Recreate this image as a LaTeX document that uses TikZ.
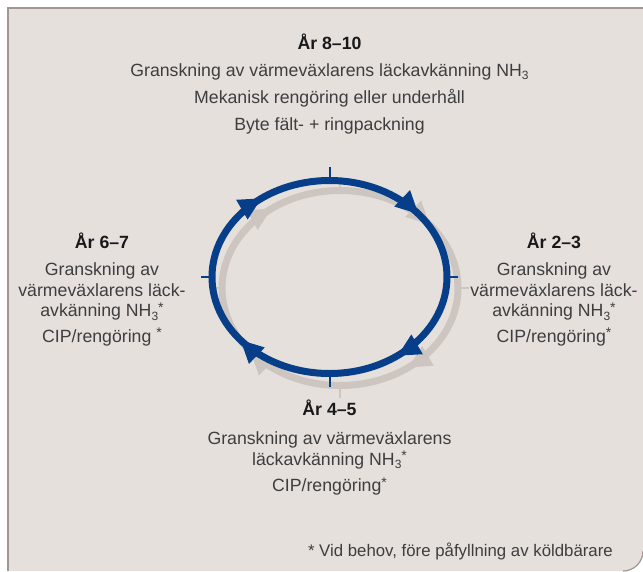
\documentclass[tikz,border=0pt]{standalone}
\usepackage{fontspec}
\setmainfont{Liberation Sans}
\usetikzlibrary{arrows.meta,decorations.markings}

\definecolor{panel}{RGB}{230,224,221}
\definecolor{panelline}{RGB}{163,149,146}
\definecolor{cycleblue}{RGB}{6,62,138}
\definecolor{cycleshade}{RGB}{205,197,192}
\definecolor{ink}{RGB}{62,62,62}
\definecolor{headink}{RGB}{25,25,25}

% lowered subscript three, as in NH3, and a raised note star
\newcommand{\lowthree}{\raisebox{-0.42ex}{\fontsize{12}{12}\selectfont 3}}
\newcommand{\highstar}{\raisebox{0.45ex}{\fontsize{14}{14}\selectfont *}}

\begin{document}
\begin{tikzpicture}[x=1pt,y=1pt,
  txt/.style={anchor=base, text=ink, inner sep=0pt, font=\fontsize{17.7}{20}\selectfont},
  head/.style={anchor=base, text=headink, inner sep=0pt, font=\fontsize{17.7}{20}\selectfont\bfseries},
  note/.style={anchor=base east, text=ink, inner sep=0pt, font=\fontsize{16.8}{19}\selectfont},
  ring/.style={line width=7pt, postaction={decorate}, decoration={markings,
     mark=at position 0.145 with {\arrow{Triangle[length=23pt,width=21pt]}},
     mark=at position 0.395 with {\arrow{Triangle[length=23pt,width=21pt]}},
     mark=at position 0.645 with {\arrow{Triangle[length=23pt,width=21pt]}},
     mark=at position 0.895 with {\arrow{Triangle[length=23pt,width=21pt]}}}},
  tickmark/.style={line width=2pt}]

\useasboundingbox (0,0) rectangle (643,-571);
\fill[white] (0,0) rectangle (643,-571);

% panel with rounded lower right corner
\fill[panel] (8,-571) -- (8,-8) -- (643,-8) -- (643,-551)
  arc[start angle=0, end angle=-90, radius=20] -- cycle;
\draw[panelline, line width=2pt] (8,-571) -- (8,-8) -- (643,-8);
\draw[panelline, line width=1.2pt] (643,-551) arc[start angle=0, end angle=-90, radius=20];

% cycle centres
\coordinate (sc) at (340,-288);
\coordinate (bc) at (329.5,-277);

% shadow ring
\draw[cycleshade, tickmark] (340,-178) -- (340,-189);
\draw[cycleshade, tickmark] (469,-288) -- (457.5,-288);
\draw[cycleshade, tickmark] (340,-398) -- (340,-387);
\draw[cycleshade, tickmark] (211.5,-288) -- (222.5,-288);
\draw[cycleshade, ring] (sc) ++(0,97.5) arc[start angle=90, end angle=-270, x radius=118, y radius=97.5];

% blue ring
\draw[cycleblue, tickmark] (329.5,-167) -- (329.5,-178);
\draw[cycleblue, tickmark] (458,-277) -- (447,-277);
\draw[cycleblue, tickmark] (329.5,-387) -- (329.5,-376);
\draw[cycleblue, tickmark] (201,-277) -- (212,-277);
\draw[cycleblue, ring] (bc) ++(0,96.5) arc[start angle=90, end angle=-270, x radius=117.5, y radius=96.5];

% year 8-10
\node[head] (t0) at (329.5,-49) {År 8–10};
\node[txt] (t1) at (329.5,-76) {Granskning av värmeväxlarens läckavkänning NH\lowthree};
\node[txt] (t2) at (329.5,-103) {Mekanisk rengöring eller underhåll};
\node[txt] (t3) at (329.5,-130) {Byte fält- + ringpackning};

% year 2-3
\node[head] (r0) at (554,-248) {År 2–3};
\node[txt] (r1) at (554,-275.5) {Granskning av};
\node[txt] (r2) at (554,-296) {värmeväxlarens läck-};
\node[txt] (r3) at (554,-316.5) {avkänning NH\lowthree\highstar};
\node[txt] (r4) at (554,-342) {CIP/rengöring\highstar};

% year 6-7
\node[head] (l0) at (102,-248) {År 6–7};
\node[txt] (l1) at (102,-275.5) {Granskning av};
\node[txt] (l2) at (102,-296) {värmeväxlarens läck-};
\node[txt] (l3) at (102,-316.5) {avkänning NH\lowthree\highstar};
\node[txt] (l4) at (102,-342) {CIP/rengöring \highstar};

% year 4-5
\node[head] (b0) at (329.5,-415) {År 4–5};
\node[txt] (b1) at (329.5,-444) {Granskning av värmeväxlarens};
\node[txt] (b2) at (329.5,-465) {läckavkänning NH\lowthree\highstar};
\node[txt] (b3) at (329.5,-491.5) {CIP/rengöring\highstar};

% footnote
\node[note] (fn) at (613,-556) {* Vid behov, före påfyllning av köldbärare};
\end{tikzpicture}
\end{document}
